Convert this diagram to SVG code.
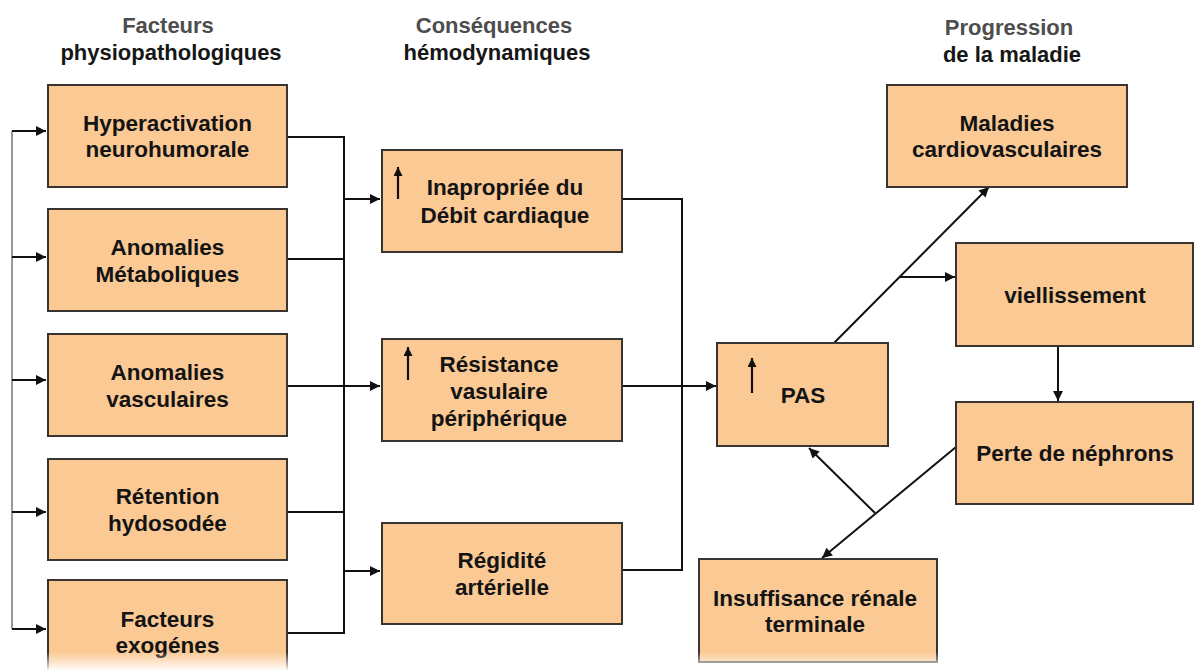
<svg xmlns="http://www.w3.org/2000/svg" width="1194" height="670" viewBox="0 0 1194 670">
<defs>
<style>
.box{fill:#FAC994;stroke:#3a3430;stroke-width:2}
.t{font-family:"Liberation Sans",Arial,sans-serif;font-weight:bold;font-size:22.5px;fill:#141414;text-anchor:middle}
.h1{font-family:"Liberation Sans",Arial,sans-serif;font-weight:bold;font-size:22px;fill:#4d4d4d;text-anchor:middle}
.h2{font-family:"Liberation Sans",Arial,sans-serif;font-weight:bold;font-size:22px;fill:#161616;text-anchor:middle}
.c{fill:none;stroke:#111;stroke-width:2}
.cl{fill:none;stroke:#555;stroke-width:1.2}
.up{fill:none;stroke:#111;stroke-width:2.2}
</style>
<marker id="ah" viewBox="0 0 10 10" refX="10" refY="5" markerWidth="12" markerHeight="10" markerUnits="userSpaceOnUse" orient="auto">
<path d="M0,0 L10,5 L0,10 z" fill="#111"/>
</marker>
<marker id="ahs" viewBox="0 0 10 10" refX="10" refY="5" markerWidth="10" markerHeight="9" markerUnits="userSpaceOnUse" orient="auto">
<path d="M0,0 L10,5 L0,10 z" fill="#111"/>
</marker>
<linearGradient id="fade" x1="0" y1="0" x2="0" y2="1">
<stop offset="0" stop-color="#fff" stop-opacity="0"/>
<stop offset="1" stop-color="#fff" stop-opacity="0.92"/>
</linearGradient>
</defs>
<rect width="1194" height="670" fill="#fff"/>

<g id="headers">
<text class="h1" x="168" y="33">Facteurs</text>
<text class="h2" x="171" y="60">physiopathologiques</text>
<text class="h1" x="494" y="33">Conséquences</text>
<text class="h2" x="497" y="60">hémodynamiques</text>
<text class="h1" x="1009" y="35">Progression</text>
<text class="h2" x="1012" y="62">de la maladie</text>
</g>

<g id="connectors">
<path class="cl" d="M12,131 V629"/>
<path class="c" d="M12,131 H46" marker-end="url(#ah)"/>
<path class="c" d="M12,257 H46" marker-end="url(#ah)"/>
<path class="c" d="M12,380 H46" marker-end="url(#ah)"/>
<path class="c" d="M12,512 H46" marker-end="url(#ah)"/>
<path class="c" d="M12,629 H46" marker-end="url(#ah)"/>

<path class="c" d="M287,137 H344 V633 H287"/>
<path class="c" d="M287,259 H344"/>
<path class="c" d="M287,386 H344"/>
<path class="c" d="M287,512 H344"/>
<path class="c" d="M344,199 H380" marker-end="url(#ah)"/>
<path class="c" d="M344,386 H380" marker-end="url(#ah)"/>
<path class="c" d="M344,571 H380" marker-end="url(#ah)"/>

<path class="c" d="M622,199 H682 V570 H622"/>
<path class="c" d="M622,386 H716" marker-end="url(#ah)"/>

<path class="c" d="M832,345 L989,187" marker-end="url(#ah)"/>
<path class="c" d="M900,277 H955" marker-end="url(#ah)"/>
<path class="c" d="M1058,346 V401" marker-end="url(#ah)"/>
<path class="c" d="M956,447 L822,558" marker-end="url(#ah)"/>
<path class="c" d="M875,513 L809,448" marker-end="url(#ah)"/>
</g>

<g id="n-hyper">
<rect class="box" x="48" y="85" width="239" height="102"/>
<text class="t" x="167.5" y="131">Hyperactivation</text>
<text class="t" x="167.5" y="157">neurohumorale</text>
</g>
<g id="n-meta">
<rect class="box" x="48" y="209" width="239" height="102"/>
<text class="t" x="167.5" y="255">Anomalies</text>
<text class="t" x="167.5" y="282">Métaboliques</text>
</g>
<g id="n-vasc">
<rect class="box" x="48" y="334" width="239" height="102"/>
<text class="t" x="167.5" y="380">Anomalies</text>
<text class="t" x="167.5" y="407">vasculaires</text>
</g>
<g id="n-reten">
<rect class="box" x="48" y="459" width="239" height="101"/>
<text class="t" x="167.5" y="504">Rétention</text>
<text class="t" x="167.5" y="531">hydosodée</text>
</g>
<g id="n-exo">
<rect class="box" x="48" y="580" width="239" height="102"/>
<text class="t" x="167.5" y="627">Facteurs</text>
<text class="t" x="167.5" y="653">exogénes</text>
</g>

<g id="n-debit">
<rect class="box" x="382" y="150" width="240" height="102"/>
<path class="up" d="M398,199 V167" marker-end="url(#ahs)"/>
<text class="t" x="505" y="195">Inapropriée du</text>
<text class="t" x="505" y="223">Débit cardiaque</text>
</g>
<g id="n-resist">
<rect class="box" x="382" y="339" width="240" height="102"/>
<path class="up" d="M408,380 V347" marker-end="url(#ahs)"/>
<text class="t" x="499" y="372">Résistance</text>
<text class="t" x="499" y="399">vasulaire</text>
<text class="t" x="499" y="426">périphérique</text>
</g>
<g id="n-regid">
<rect class="box" x="382" y="523" width="240" height="101"/>
<text class="t" x="502" y="568">Régidité</text>
<text class="t" x="502" y="595">artérielle</text>
</g>

<g id="n-pas">
<rect class="box" x="717" y="343" width="171" height="103"/>
<path class="up" d="M752,393 V358" marker-end="url(#ahs)"/>
<text class="t" x="803" y="403">PAS</text>
</g>

<g id="n-cardio">
<rect class="box" x="887" y="85" width="240" height="102"/>
<text class="t" x="1007" y="131">Maladies</text>
<text class="t" x="1007" y="157">cardiovasculaires</text>
</g>
<g id="n-vieil">
<rect class="box" x="956" y="243" width="237" height="103"/>
<text class="t" x="1075" y="303">viellissement</text>
</g>
<g id="n-nephron">
<rect class="box" x="956" y="402" width="237" height="102"/>
<text class="t" x="1075" y="461">Perte de néphrons</text>
</g>
<g id="n-irt">
<rect class="box" x="699" y="559" width="238" height="103"/>
<text class="t" x="815" y="606">Insuffisance rénale</text>
<text class="t" x="815" y="632">terminale</text>
</g>

<rect x="0" y="652" width="1194" height="18" fill="url(#fade)"/>
</svg>
